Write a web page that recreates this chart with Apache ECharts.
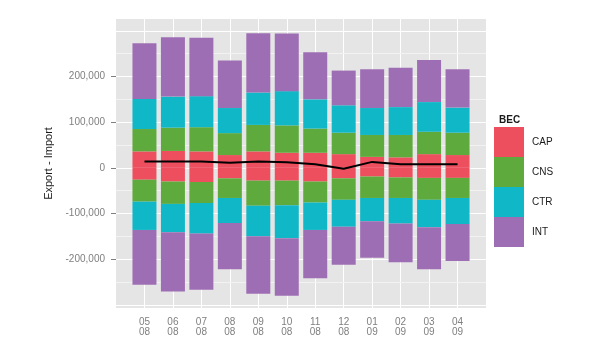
<!DOCTYPE html>
<html>
<head>
<meta charset="utf-8">
<script src="https://cdn.jsdelivr.net/npm/echarts@6/dist/echarts.min.js"></script>
<style>html,body{margin:0;padding:0;background:#fff}#c{width:600px;height:361px}</style>
</head>
<body>
<div id="c"></div>
<script>
const months = ['05\n08','06\n08','07\n08','08\n08','09\n08','10\n08','11\n08','12\n08','01\n09','02\n09','03\n09','04\n09'];
const becNames = ['CAP','CNS','CTR','INT'];
const capExport = [36000, 37000, 36000, 28000, 36000, 33000, 33000, 30000, 24000, 23000, 30000, 28000];
const cnsExport = [49000, 51000, 53000, 48000, 58000, 60000, 53000, 47000, 48000, 49000, 49000, 49000];
const ctrExport = [66000, 68000, 68000, 55000, 71000, 75000, 64000, 60000, 59000, 61000, 65000, 55000];
const intExport = [122000, 130000, 128000, 104000, 130000, 126000, 103000, 76000, 85000, 86000, 92000, 84000];
const capImport = [-26000, -30000, -31000, -23000, -28000, -28000, -30000, -23000, -19000, -21000, -22000, -22000];
const cnsImport = [-48000, -49000, -46000, -43000, -55000, -54000, -46000, -47000, -47000, -45000, -48000, -44000];
const ctrImport = [-62000, -62000, -67000, -55000, -67000, -72000, -60000, -59000, -51000, -56000, -60000, -57000];
const intImport = [-120000, -130000, -123000, -101000, -126000, -126000, -106000, -83000, -80000, -85000, -92000, -81000];
const balance = [14000, 14000, 14000, 11000, 14000, 12000, 8000, -2000, 13000, 8000, 8000, 8000];
const yTickValues = [-200000, -100000, 0, 100000, 200000];
const gridMajor = [-300000, -200000, -100000, 0, 100000, 200000, 300000];
const gridMinor = [-250000, -150000, -50000, 50000, 150000, 250000];

const colors = {CAP:'#EE4F5F', CNS:'#5FAA3C', CTR:'#10B7C7', INT:'#9E6EB4'};
const FONT = 'Liberation Sans';
const pad = a => [null, ...a, null];
const cats = ['', ...months, ''];
const inner = (i) => i > 0 && i < cats.length - 1;

const exportsBy = {CAP: capExport, CNS: cnsExport, CTR: ctrExport, INT: intExport};
const importsBy = {CAP: capImport, CNS: cnsImport, CTR: ctrImport, INT: intImport};

const series = [{
  type: 'line', data: [], z: 1, silent: true,
  markLine: {
    z: 1, silent: true, symbol: ['none','none'], label: {show: false}, animation: false,
    emphasis: {disabled: true},
    data: [
      ...gridMinor.map(v => ({yAxis: v, lineStyle: {color: '#F2F2F2', width: 1, type: 'solid'}})),
      ...gridMajor.map(v => ({yAxis: v, lineStyle: {color: '#FFFFFF', width: 1, type: 'solid'}}))
    ]
  }
}];
becNames.forEach(n => {
  series.push({name: n, type: 'bar', stack: 'bec', barWidth: 24, z: 3,
    itemStyle: {color: colors[n]}, data: pad(exportsBy[n])});
  series.push({name: n, type: 'bar', stack: 'bec', barWidth: 24, z: 3,
    itemStyle: {color: colors[n]}, data: pad(importsBy[n])});
});
series.push({name: 'balance', type: 'line', data: pad(balance), z: 5, symbol: 'none',
  lineStyle: {color: '#000', width: 2}, itemStyle: {color: '#000'}});

const chart = echarts.init(document.getElementById('c'), null, {renderer: 'canvas'});
chart.setOption({
  animation: false,
  backgroundColor: '#fff',
  textStyle: {fontFamily: FONT},
  grid: {left: 116, right: 114, top: 19, bottom: 53, show: true, backgroundColor: '#E5E5E5', borderWidth: 0},
  title: {text: 'BEC', left: 494, top: 110, textStyle: {fontFamily: FONT, fontSize: 10, fontWeight: 'bold', color: '#1a1a1a'}},
  legend: {
    data: becNames, orient: 'vertical', left: 494, top: 127, padding: 0,
    itemWidth: 30, itemHeight: 30, itemGap: 0, icon: 'rect', selectedMode: false,
    textStyle: {fontFamily: FONT, fontSize: 10, color: '#1a1a1a', padding: [0,0,0,3]}
  },
  xAxis: {
    type: 'category', data: cats, boundaryGap: false,
    axisLine: {show: false},
    axisTick: {show: true, length: 5, interval: (i) => inner(i), lineStyle: {color: '#7F7F7F'}},
    axisLabel: {interval: 0, margin: 9, color: '#7F7F7F', fontSize: 10, lineHeight: 10, fontFamily: FONT},
    splitLine: {show: true, interval: (i) => inner(i), lineStyle: {color: '#FFFFFF', width: 1}}
  },
  yAxis: {
    type: 'value', min: -307000, max: 326000,
    name: 'Export - Import', nameLocation: 'middle', nameGap: 61, nameRotate: 90,
    nameTextStyle: {fontFamily: FONT, fontSize: 11, color: '#1a1a1a'},
    axisLine: {show: false},
    axisTick: {show: true, length: 5, customValues: yTickValues, lineStyle: {color: '#7F7F7F'}},
    axisLabel: {customValues: yTickValues, margin: 11, color: '#7F7F7F', fontSize: 10, fontFamily: FONT,
      formatter: v => v.toLocaleString('en-US')},
    splitLine: {show: false}
  },
  series: series
});
</script>
</body>
</html>
